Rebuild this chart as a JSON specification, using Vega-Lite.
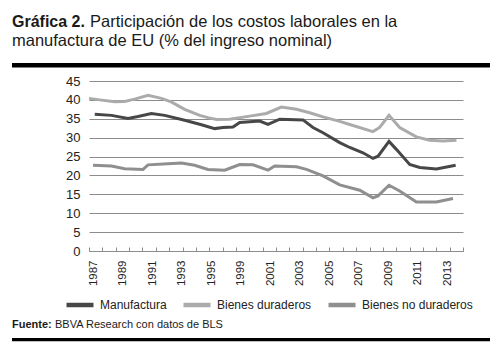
{
  "$schema": "https://vega.github.io/schema/vega-lite/v6.json",
  "background": "white",
  "padding": {"left": 12, "top": 13, "right": 4, "bottom": 2},
  "config": {
    "view": {"stroke": null},
    "concat": {"spacing": 0},
    "title": {"anchor": "start", "color": "#1a1a1a", "font": "Liberation Sans", "fontSize": 16.5, "fontWeight": "normal", "offset": 0}
  },
  "datasets": {
    "series": [
      {"series": "Manufactura", "year": 1986.93, "value": 36.2},
      {"series": "Manufactura", "year": 1988.18, "value": 35.9},
      {"series": "Manufactura", "year": 1989.42, "value": 35.1},
      {"series": "Manufactura", "year": 1990.17, "value": 35.6},
      {"series": "Manufactura", "year": 1991.17, "value": 36.4},
      {"series": "Manufactura", "year": 1992.17, "value": 35.9},
      {"series": "Manufactura", "year": 1993.66, "value": 34.6},
      {"series": "Manufactura", "year": 1994.92, "value": 33.4},
      {"series": "Manufactura", "year": 1995.91, "value": 32.4},
      {"series": "Manufactura", "year": 1996.53, "value": 32.7},
      {"series": "Manufactura", "year": 1997.28, "value": 32.8},
      {"series": "Manufactura", "year": 1997.78, "value": 34.0},
      {"series": "Manufactura", "year": 1999.28, "value": 34.4},
      {"series": "Manufactura", "year": 1999.9, "value": 33.5},
      {"series": "Manufactura", "year": 2000.78, "value": 34.9},
      {"series": "Manufactura", "year": 2002.52, "value": 34.7},
      {"series": "Manufactura", "year": 2003.27, "value": 32.7},
      {"series": "Manufactura", "year": 2004.02, "value": 31.3},
      {"series": "Manufactura", "year": 2005.27, "value": 28.7},
      {"series": "Manufactura", "year": 2006.02, "value": 27.4},
      {"series": "Manufactura", "year": 2007.01, "value": 26.0},
      {"series": "Manufactura", "year": 2007.76, "value": 24.5},
      {"series": "Manufactura", "year": 2008.14, "value": 25.1},
      {"series": "Manufactura", "year": 2008.96, "value": 29.0},
      {"series": "Manufactura", "year": 2009.51, "value": 26.9},
      {"series": "Manufactura", "year": 2010.51, "value": 22.9},
      {"series": "Manufactura", "year": 2011.26, "value": 22.1},
      {"series": "Manufactura", "year": 2012.51, "value": 21.7},
      {"series": "Manufactura", "year": 2013.95, "value": 22.7},
      {"series": "Bienes duraderos", "year": 1986.5, "value": 40.4},
      {"series": "Bienes duraderos", "year": 1987.3, "value": 40.0},
      {"series": "Bienes duraderos", "year": 1988.42, "value": 39.5},
      {"series": "Bienes duraderos", "year": 1989.17, "value": 39.6},
      {"series": "Bienes duraderos", "year": 1989.92, "value": 40.2},
      {"series": "Bienes duraderos", "year": 1990.92, "value": 41.2},
      {"series": "Bienes duraderos", "year": 1991.92, "value": 40.4},
      {"series": "Bienes duraderos", "year": 1992.69, "value": 39.4},
      {"series": "Bienes duraderos", "year": 1993.66, "value": 37.5},
      {"series": "Bienes duraderos", "year": 1994.79, "value": 35.9},
      {"series": "Bienes duraderos", "year": 1995.41, "value": 35.3},
      {"series": "Bienes duraderos", "year": 1996.04, "value": 34.8},
      {"series": "Bienes duraderos", "year": 1997.03, "value": 34.9},
      {"series": "Bienes duraderos", "year": 1998.53, "value": 35.7},
      {"series": "Bienes duraderos", "year": 1999.78, "value": 36.4},
      {"series": "Bienes duraderos", "year": 2000.9, "value": 38.1},
      {"series": "Bienes duraderos", "year": 2002.03, "value": 37.5},
      {"series": "Bienes duraderos", "year": 2003.02, "value": 36.6},
      {"series": "Bienes duraderos", "year": 2004.02, "value": 35.5},
      {"series": "Bienes duraderos", "year": 2005.27, "value": 34.3},
      {"series": "Bienes duraderos", "year": 2006.02, "value": 33.5},
      {"series": "Bienes duraderos", "year": 2007.76, "value": 31.6},
      {"series": "Bienes duraderos", "year": 2008.26, "value": 32.7},
      {"series": "Bienes duraderos", "year": 2008.96, "value": 35.9},
      {"series": "Bienes duraderos", "year": 2009.76, "value": 32.7},
      {"series": "Bienes duraderos", "year": 2011.01, "value": 30.2},
      {"series": "Bienes duraderos", "year": 2012.0, "value": 29.3},
      {"series": "Bienes duraderos", "year": 2013.0, "value": 29.1},
      {"series": "Bienes duraderos", "year": 2014.01, "value": 29.3},
      {"series": "Bienes no duraderos", "year": 1986.8, "value": 22.7},
      {"series": "Bienes no duraderos", "year": 1988.18, "value": 22.5},
      {"series": "Bienes no duraderos", "year": 1989.17, "value": 21.8},
      {"series": "Bienes no duraderos", "year": 1990.54, "value": 21.6},
      {"series": "Bienes no duraderos", "year": 1990.92, "value": 22.8},
      {"series": "Bienes no duraderos", "year": 1992.41, "value": 23.1},
      {"series": "Bienes no duraderos", "year": 1993.42, "value": 23.3},
      {"series": "Bienes no duraderos", "year": 1994.41, "value": 22.7},
      {"series": "Bienes no duraderos", "year": 1995.41, "value": 21.6},
      {"series": "Bienes no duraderos", "year": 1996.66, "value": 21.4},
      {"series": "Bienes no duraderos", "year": 1997.78, "value": 22.9},
      {"series": "Bienes no duraderos", "year": 1998.78, "value": 22.8},
      {"series": "Bienes no duraderos", "year": 1999.9, "value": 21.4},
      {"series": "Bienes no duraderos", "year": 2000.4, "value": 22.5},
      {"series": "Bienes no duraderos", "year": 2002.03, "value": 22.3},
      {"series": "Bienes no duraderos", "year": 2002.78, "value": 21.6},
      {"series": "Bienes no duraderos", "year": 2004.02, "value": 19.9},
      {"series": "Bienes no duraderos", "year": 2005.27, "value": 17.5},
      {"series": "Bienes no duraderos", "year": 2006.77, "value": 16.1},
      {"series": "Bienes no duraderos", "year": 2007.76, "value": 14.1},
      {"series": "Bienes no duraderos", "year": 2008.14, "value": 14.6},
      {"series": "Bienes no duraderos", "year": 2008.96, "value": 17.4},
      {"series": "Bienes no duraderos", "year": 2009.76, "value": 15.9},
      {"series": "Bienes no duraderos", "year": 2011.01, "value": 13.0},
      {"series": "Bienes no duraderos", "year": 2012.51, "value": 13.0},
      {"series": "Bienes no duraderos", "year": 2013.75, "value": 13.9}
    ]
  },
  "spacing": 0,
  "resolve": {"scale": {"color": "independent"}, "legend": {"color": "independent"}},
  "vconcat": [
    {
      "spacing": 5,
      "hconcat": [
        {"width": 0.01, "height": 0.01, "data": {"values": [{}]}, "mark": {"type": "text", "fontSize": 0}, "encoding": {"text": {"value": ""}},
         "title": {"text": "Gráfica 2.", "fontWeight": "bold", "fontSize": 16, "offset": 1}},
        {"width": 0.01, "height": 0.01, "data": {"values": [{}]}, "mark": {"type": "text", "fontSize": 0}, "encoding": {"text": {"value": ""}},
         "title": {"text": "Participación de los costos laborales en la", "offset": 1}}
      ]
    },
    {"width": 0.01, "height": 0.01, "data": {"values": [{}]}, "mark": {"type": "text", "fontSize": 0}, "encoding": {"text": {"value": ""}},
     "title": {"text": "manufactura de EU (% del ingreso nominal)", "offset": 13}},
    {
      "width": 478, "height": 4.5,
      "data": {"values": [{}]},
      "mark": {"type": "rect", "color": "#000000"},
      "encoding": {"x": {"value": 0}, "x2": {"value": "width"}, "y": {"value": 0}, "y2": {"value": "height"}}
    },
    {
      "spacing": 0,
      "resolve": {"scale": {"color": "independent"}, "legend": {"color": "independent"}},
      "hconcat": [
        {"width": 47, "height": 0.01, "data": {"values": [{}]}, "mark": {"type": "text", "fontSize": 0}, "encoding": {"text": {"value": ""}}},
        {
          "width": 374, "height": 170,
          "title": {"text": "\u00a0", "fontSize": 1, "offset": 6},
          "data": {"name": "series"},
          "layer": [
            {
              "transform": [{"filter": "datum.series != 'Bienes no duraderos'"}],
              "mark": {"type": "line", "strokeWidth": 3},
              "encoding": {
                "x": {"field": "year", "type": "quantitative",
                  "scale": {"domain": [1986.5, 2014.5], "nice": false, "zero": false},
                  "axis": {"orient": "bottom", "title": null, "grid": false, "domain": false, "ticks": false,
                    "values": [1986.837, 1989.044, 1991.25, 1993.457, 1995.664, 1997.87, 2000.077, 2002.284, 2004.491, 2006.697, 2008.904, 2011.11, 2013.317],
                    "labelExpr": "['1987','1989','1991','1993','1995','1999','2001','2003','2005','2007','2009','2011','2013'][round((datum.value-1986.837)/2.2067)]",
                    "labelAngle": 270, "labelPadding": 9, "labelFont": "Liberation Sans",
                    "labelFontSize": 11.5, "labelColor": "#222222", "labelFlush": false, "labelOverlap": false}},
                "y": {"field": "value", "type": "quantitative",
                  "scale": {"domain": [0, 45], "nice": false},
                  "axis": {"title": null, "values": [0, 5, 10, 15, 20, 25, 30, 35, 40, 45], "domain": false, "ticks": false,
                    "grid": true, "gridColor": "#8c8c8c", "gridWidth": 1, "labelPadding": 9,
                    "labelFont": "Liberation Sans", "labelFontSize": 13, "labelColor": "#222222"}},
                "color": {"field": "series", "type": "nominal",
                  "scale": {"domain": ["Manufactura", "Bienes duraderos", "Bienes no duraderos"], "range": ["#474747", "#ababab", "#8f8f8f"]},
                  "legend": {"orient": "none", "legendX": -30, "legendY": 203, "padding": 5, "direction": "horizontal", "title": null,
                    "symbolType": "stroke", "symbolSize": 729, "symbolStrokeWidth": 4.5,
                    "labelFont": "Liberation Sans", "labelFontSize": 12, "labelColor": "#222222",
                    "labelOffset": 4, "columnPadding": 7, "labelLimit": 300}}
              }
            },
            {
              "transform": [{"filter": "datum.series == 'Bienes no duraderos'"}],
              "mark": {"type": "line", "strokeWidth": 3},
              "encoding": {
                "x": {"field": "year", "type": "quantitative",
                  "scale": {"domain": [1986.5, 2014.5], "nice": false, "zero": false},
                  "axis": {"orient": "bottom", "title": null, "grid": false, "labels": false, "ticks": true, "tickSize": -4,
                    "tickColor": "#8c8c8c", "domain": true, "domainColor": "#8c8c8c",
                    "values": [1986.5, 1987.5, 1988.5, 1989.5, 1990.5, 1991.5, 1992.5, 1993.5, 1994.5, 1995.5, 1996.5, 1997.5, 1998.5, 1999.5, 2000.5, 2001.5, 2002.5, 2003.5, 2004.5, 2005.5, 2006.5, 2007.5, 2008.5, 2009.5, 2010.5, 2011.5, 2012.5, 2013.5, 2014.5]}},
                "y": {"field": "value", "type": "quantitative",
                  "scale": {"domain": [0, 45], "nice": false},
                  "axis": {"title": null, "values": [0, 5, 10, 15, 20, 25, 30, 35, 40, 45], "domain": false, "ticks": false,
                    "grid": true, "gridColor": "#8c8c8c", "gridWidth": 1, "labelPadding": 9,
                    "labelFont": "Liberation Sans", "labelFontSize": 13, "labelColor": "#222222"}},
                "color": {"field": "series", "type": "nominal",
                  "scale": {"domain": ["Manufactura", "Bienes duraderos", "Bienes no duraderos"], "range": ["#474747", "#ababab", "#8f8f8f"]},
                  "legend": {"orient": "none", "legendX": -30, "legendY": 203, "padding": 5, "direction": "horizontal", "title": null,
                    "symbolType": "stroke", "symbolSize": 729, "symbolStrokeWidth": 4.5,
                    "labelFont": "Liberation Sans", "labelFontSize": 12, "labelColor": "#222222",
                    "labelOffset": 4, "columnPadding": 7, "labelLimit": 300}}
              }
            }
          ],
          "resolve": {"axis": {"x": "independent"}}
        }
      ]
    },
    {
      "spacing": 3,
      "hconcat": [
        {"width": 0.01, "height": 0.01, "data": {"values": [{}]}, "mark": {"type": "text", "fontSize": 0}, "encoding": {"text": {"value": ""}},
         "title": {"text": "Fuente:", "fontWeight": "bold", "fontSize": 11, "offset": 7}},
        {"width": 0.01, "height": 0.01, "data": {"values": [{}]}, "mark": {"type": "text", "fontSize": 0}, "encoding": {"text": {"value": ""}},
         "title": {"text": "BBVA Research con datos de BLS", "fontSize": 11, "offset": 7}}
      ]
    },
    {
      "width": 478, "height": 3.3,
      "data": {"values": [{}]},
      "mark": {"type": "rect", "color": "#000000"},
      "encoding": {"x": {"value": 0}, "x2": {"value": "width"}, "y": {"value": 0}, "y2": {"value": "height"}}
    }
  ]
}
